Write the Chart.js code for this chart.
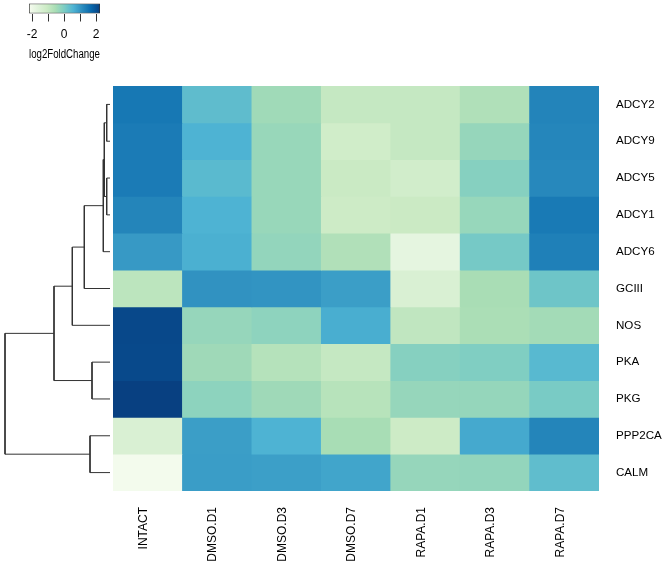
<!DOCTYPE html>
<html>
<head>
<meta charset="utf-8">
<script src="https://cdn.jsdelivr.net/npm/chart.js@4.4.0/dist/chart.umd.min.js"></script>
<style>
  html, body { margin: 0; padding: 0; background: #fff; }
  #wrap { position: relative; width: 666px; height: 564px; overflow: hidden; }
  #wrap canvas { position: absolute; left: 0; top: 0; }
</style>
</head>
<body>
<div id="wrap">
  <canvas id="heat" width="666" height="564"></canvas>
  <canvas id="dendro" width="113" height="564"></canvas>
  <canvas id="legend" width="130" height="70"></canvas>
</div>
<script>
/* heatmap log2FoldChange - genes x conditions, with row dendrogram */

const columns = ["INTACT", "DMSO.D1", "DMSO.D3", "DMSO.D7", "RAPA.D1", "RAPA.D3", "RAPA.D7"];
const genes = ["ADCY2", "ADCY9", "ADCY5", "ADCY1", "ADCY6", "GCIII", "NOS", "PKA", "PKG", "PPP2CA", "CALM"];

// one row per gene, same order as columns
const adcy2  = [1.45, 0.38, -0.43, -0.97, -0.97, -0.65, 1.26];
const adcy9  = [1.40, 0.58, -0.33, -1.19, -0.97, -0.30, 1.23];
const adcy5  = [1.40, 0.44, -0.33, -1.05, -1.22, -0.10, 1.20];
const adcy1  = [1.25, 0.58, -0.33, -1.10, -1.06, -0.32, 1.42];
const adcy6  = [0.95, 0.63, -0.26, -0.66, -1.76, 0.09, 1.33];
const gciii  = [-0.83, 1.05, 1.03, 0.89, -1.44, -0.54, 0.19];
const nos    = [2.14, -0.30, -0.21, 0.66, -0.90, -0.57, -0.46];
const pka    = [2.12, -0.41, -0.72, -0.97, -0.10, -0.03, 0.46];
const pkg    = [2.25, -0.19, -0.41, -0.75, -0.30, -0.29, 0.06];
const ppp2ca = [-1.44, 0.89, 0.58, -0.52, -1.10, 0.73, 1.25];
const calm   = [-2.10, 0.90, 0.87, 0.79, -0.30, -0.27, 0.36];

// row dendrogram: children are gene names or earlier merge indexes
const mergeLeft   = ["ADCY2", "ADCY5", 0, 2, 3, 4, "PKA", 5, "PPP2CA", 7];
const mergeRight  = ["ADCY9", "ADCY1", 1, "ADCY6", "GCIII", "NOS", "PKG", 6, "CALM", 8];
const mergeHeight = [3.3, 3.3, 5.7, 6.7, 25.7, 37.7, 18, 56, 20, 105];

// colour key
const cbMin = -2.19;
const cbMax = 2.25;
const cbTicks = [-2, -1, 0, 1, 2];
const gnbu = ["#f7fcf0", "#e0f3db", "#ccebc5", "#a8ddb5", "#7bccc4", "#4eb3d3", "#2b8cbe", "#0868ac", "#084081"];

const matrix = [adcy2, adcy9, adcy5, adcy1, adcy6, gciii, nos, pka, pkg, ppp2ca, calm];
const FONT = { family: "'Liberation Sans', Arial, Helvetica, sans-serif", size: 12 };
const TEXT = '#000';

function hexRgb(h) {
    return [1, 3, 5].map(i => parseInt(h.substr(i, 2), 16));
}

function colorFor(v) {
    let t = (v - cbMin) / (cbMax - cbMin);
    t = Math.max(0, Math.min(1, t)) * (gnbu.length - 1);
    const i = Math.min(Math.floor(t), gnbu.length - 2);
    const f = t - i;
    const a = hexRgb(gnbu[i]), b = hexRgb(gnbu[i + 1]);
    const c = a.map((x, k) => Math.round(x + (b[k] - x) * f));
    return `rgb(${c[0]},${c[1]},${c[2]})`;
}

// ---------- heatmap ----------
new Chart(document.getElementById('heat'), {
    type: 'bar',
    data: {
        labels: columns,
        datasets: matrix.map((row, i) => ({
            label: genes[i],
            data: row.map(() => 1),
            backgroundColor: row.map(colorFor),
            borderWidth: 0,
            barPercentage: 1,
            categoryPercentage: 1
        }))
    },
    options: {
        responsive: false,
        animation: false,
        layout: { padding: { left: 113, top: 86, right: 0, bottom: 0 } },
        scales: {
            x: {
                stacked: true,
                grid: { display: false, drawTicks: false },
                border: { display: false },
                ticks: { minRotation: 90, maxRotation: 90, autoSkip: false, padding: 16, labelOffset: -4, font: FONT, color: TEXT },
                afterFit: (s) => { s.height = 73; }
            },
            y: {
                type: 'linear',
                position: 'right',
                stacked: true,
                reverse: true,
                min: 0,
                max: genes.length,
                grid: { display: false, drawTicks: false },
                border: { display: false },
                afterBuildTicks: (s) => { s.ticks = genes.map((g, i) => ({ value: i + 0.5 })); },
                ticks: { autoSkip: false, padding: 17, font: { ...FONT, size: 11.6 }, color: TEXT, callback: (v) => genes[Math.floor(v)] },
                afterFit: (s) => { s.width = 67; }
            }
        },
        plugins: { legend: { display: false }, tooltip: { enabled: false } }
    }
});

// ---------- dendrogram ----------
const nodeY = (n) => typeof n === 'string' ? genes.indexOf(n) + 0.5 : (nodeY(mergeLeft[n]) + nodeY(mergeRight[n])) / 2;
const nodeH = (n) => typeof n === 'string' ? 0 : mergeHeight[n];

const branches = mergeHeight.map((h, i) => {
    const l = mergeLeft[i], r = mergeRight[i];
    return {
        data: [
            { x: nodeH(l), y: nodeY(l) },
            { x: h, y: nodeY(l) },
            { x: h, y: nodeY(r) },
            { x: nodeH(r), y: nodeY(r) }
        ],
        showLine: true,
        pointRadius: 0,
        borderColor: '#333',
        borderWidth: 1,
        clip: false
    };
});

new Chart(document.getElementById('dendro'), {
    type: 'scatter',
    data: { datasets: branches },
    options: {
        responsive: false,
        animation: false,
        layout: { padding: { left: 5, right: 3, top: 86, bottom: 73 } },
        scales: {
            x: { type: 'linear', reverse: true, min: 0, max: 105, display: false },
            y: { type: 'linear', reverse: true, min: 0, max: genes.length, display: false }
        },
        plugins: { legend: { display: false }, tooltip: { enabled: false } }
    }
});

// ---------- colour key ----------
new Chart(document.getElementById('legend'), {
    type: 'bar',
    data: {
        labels: [''],
        datasets: [{
            data: [[cbMin, cbMax]],
            backgroundColor: (ctx) => {
                const chart = ctx.chart;
                if (!chart.chartArea) return null;
                const xs = chart.scales.x;
                const g = chart.ctx.createLinearGradient(xs.getPixelForValue(cbMin), 0, xs.getPixelForValue(cbMax), 0);
                gnbu.forEach((c, i) => g.addColorStop(i / (gnbu.length - 1), c));
                return g;
            },
            borderColor: '#333',
            borderWidth: 1,
            borderSkipped: false,
            barPercentage: 1,
            categoryPercentage: 1
        }]
    },
    options: {
        indexAxis: 'y',
        responsive: false,
        animation: false,
        layout: { padding: { left: 29, right: 30, top: 3.5, bottom: 0 } },
        scales: {
            x: {
                type: 'linear',
                min: cbMin,
                max: cbMax,
                afterBuildTicks: (s) => { s.ticks = cbTicks.map(v => ({ value: v })); },
                ticks: { padding: 6, font: FONT, color: TEXT, callback: (v) => v % 2 === 0 ? String(v) : '' },
                grid: { drawOnChartArea: false, drawTicks: true, tickLength: 8, color: '#333' },
                border: { display: false },
                title: { display: true, text: 'log2FoldChange', font: FONT, color: TEXT, padding: { top: 2, bottom: 7.8 } },
                afterFit: (s) => { s.height = 56.5; }
            },
            y: { display: false }
        },
        plugins: { legend: { display: false }, tooltip: { enabled: false } }
    }
});
</script>
</body>
</html>
